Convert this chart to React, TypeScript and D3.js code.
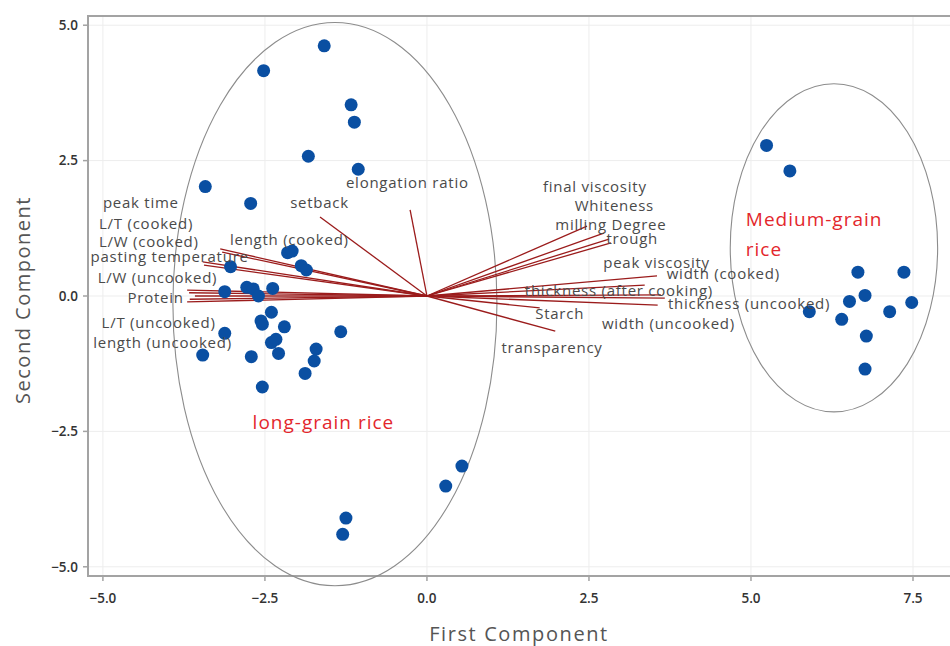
import React from "react";
import * as d3 from "d3";

// ---- data ----
const scoreX = [-1.585, -2.52, -1.17, -1.12, -1.83, -1.06, -3.42, -2.72, -2.15, -2.08, -3.03, -1.94, -1.86, -3.12, -2.78, -2.68, -2.6, -2.38, -2.4, -2.56, -2.54, -2.2, -3.12, -1.33, -2.4, -2.33, -3.46, -2.71, -2.29, -1.71, -1.74, -1.88, -2.54, 0.54, 0.29, -1.25, -1.3,
  5.24, 5.6, 6.65, 7.36, 6.76, 6.52, 7.48, 5.9, 6.4, 7.14, 6.78, 6.76];
const scoreY = [4.62, 4.16, 3.53, 3.21, 2.58, 2.34, 2.02, 1.71, 0.8, 0.83, 0.54, 0.56, 0.48, 0.08, 0.16, 0.13, 0.0, 0.14, -0.3, -0.46, -0.52, -0.57, -0.69, -0.66, -0.86, -0.8, -1.09, -1.12, -1.06, -0.98, -1.2, -1.43, -1.68, -3.14, -3.51, -4.1, -4.4,
  2.78, 2.31, 0.44, 0.44, 0.01, -0.1, -0.12, -0.29, -0.43, -0.29, -0.74, -1.35];

const variables = ["setback", "length (cooked)", "L/W (cooked)", "L/T (cooked)", "pasting temperature", "peak time", "L/W (uncooked)", "Protein", "L/T (uncooked)", "length (uncooked)",
  "elongation ratio", "final viscosity", "Whiteness", "milling Degree", "trough", "peak viscosity", "width (cooked)", "thickness (after cooking)", "thickness (uncooked)", "Starch", "width (uncooked)", "transparency"];
const loadX = [-1.65, -3.19, -3.16, -3.46, -3.44, -3.7, -3.67, -3.58, -3.66, -3.7,
  -0.26, 2.47, 2.73, 2.81, 2.84, 3.55, 3.36, 3.67, 3.61, 1.74, 3.56, 1.98];
const loadY = [1.46, 0.87, 0.81, 0.63, 0.57, 0.11, 0.06, 0.0, -0.06, -0.11,
  1.59, 1.29, 1.16, 1.05, 0.98, 0.37, 0.2, -0.04, 0.02, -0.22, -0.17, -0.65];
// label anchors (data units, left edge / vertical centre)
const labelX = [-2.11, -3.04, -5.06, -5.06, -5.19, -5.0, -5.08, -4.62, -5.02, -5.15,
  -1.25, 1.79, 2.28, 1.98, 2.77, 2.72, 3.7, 1.51, 3.72, 1.67, 2.7, 1.15];
const labelY = [1.72, 1.03, 1.01, 1.34, 0.73, 1.72, 0.33, -0.04, -0.49, -0.87,
  2.09, 2.02, 1.67, 1.32, 1.06, 0.62, 0.42, 0.09, -0.15, -0.32, -0.52, -0.96];

const xTicks = [-5.0, -2.5, 0.0, 2.5, 5.0, 7.5];
const yTicks = [5.0, 2.5, 0.0, -2.5, -5.0];

const groupNames = ["long-grain rice", "Medium-grain", "rice"];
const groupLabelX = [-2.69, 4.92, 4.92];
const groupLabelY = [-2.34, 1.42, 0.87];

const ellipseCX = [-1.42, 6.28];
const ellipseCY = [-0.15, 0.89];
const ellipseRX = [2.5, 1.6];
const ellipseRY = [5.2, 3.03];

const W = 950, H = 646;
const L = 88, R = 948, T = 16, B = 576;

export default function App() {
  const x = d3.scaleLinear().domain([-5.23, 8.04]).range([L, R]);
  const y = d3.scaleLinear().domain([-5.17, 5.17]).range([B, T]);
  const fmt = d3.format(".1f");
  const font = "'Open Sans', 'Noto Sans', sans-serif";
  const kx = x(1) - x(0);
  const ky = y(0) - y(1);

  return (
    <svg width={W} height={H} style={{ position: "absolute", left: 0, top: 0, background: "#fff" }} fontFamily={font}>
      {/* grid */}
      {xTicks.map((t) => (
        <line key={"gx" + t} x1={x(t)} x2={x(t)} y1={T} y2={B} stroke="#ededed" strokeWidth={1} />
      ))}
      {yTicks.map((t) => (
        <line key={"gy" + t} x1={L} x2={W} y1={y(t)} y2={y(t)} stroke="#ededed" strokeWidth={1} />
      ))}
      {/* frame */}
      <line x1={L} x2={W} y1={T} y2={T} stroke="#a3a3a3" strokeWidth={2} />
      <line x1={L} x2={W} y1={B} y2={B} stroke="#a3a3a3" strokeWidth={2} />
      <line x1={L} x2={L} y1={T - 1} y2={B + 1} stroke="#a3a3a3" strokeWidth={2} />
      {/* ticks */}
      {xTicks.map((t) => (
        <g key={"tx" + t}>
          <line x1={x(t)} x2={x(t)} y1={B} y2={B + 5} stroke="#a3a3a3" strokeWidth={1.5} />
          <text x={x(t)} y={B + 27} textAnchor="middle" fontSize={13.5} fontWeight={600} fill="#333">{fmt(t)}</text>
        </g>
      ))}
      {yTicks.map((t) => (
        <g key={"ty" + t}>
          <line x1={L - 5} x2={L} y1={y(t)} y2={y(t)} stroke="#a3a3a3" strokeWidth={1.5} />
          <text x={L - 10} y={y(t)} dy="0.35em" textAnchor="end" fontSize={13.5} fontWeight={600} fill="#333">{fmt(t)}</text>
        </g>
      ))}
      {/* axis titles */}
      <text x={(L + W) / 2} y={641} textAnchor="middle" fontSize={20} letterSpacing={1.6} fill="#555">First Component</text>
      <text transform={`translate(30,${(T + B) / 2 + 4}) rotate(-90)`} textAnchor="middle" fontSize={20} letterSpacing={1.5} fill="#555">Second Component</text>
      {/* ellipses */}
      {ellipseCX.map((cx, i) => (
        <ellipse key={"e" + i} cx={x(cx)} cy={y(ellipseCY[i])} rx={ellipseRX[i] * kx} ry={ellipseRY[i] * ky} fill="none" stroke="#8c8c8c" strokeWidth={1.1} />
      ))}
      {/* loading vectors */}
      {variables.map((v, i) => (
        <line key={"l" + i} x1={x(0)} y1={y(0)} x2={x(loadX[i])} y2={y(loadY[i])} stroke="#9b1c1c" strokeWidth={1.3} />
      ))}
      {/* scores */}
      {scoreX.map((sx, i) => (
        <circle key={"p" + i} cx={x(sx)} cy={y(scoreY[i])} r={6.5} fill="#0a4fa2" />
      ))}
      {/* vector labels */}
      {variables.map((v, i) => (
        <text key={"t" + i} x={x(labelX[i])} y={y(labelY[i])} dy="0.35em" fontSize={15} letterSpacing={0.75} fill="#4a4a4a">{v}</text>
      ))}
      {/* group labels */}
      {groupNames.map((g, i) => (
        <text key={"g" + i} x={x(groupLabelX[i])} y={y(groupLabelY[i])} dy="0.35em" fontSize={19} letterSpacing={1} fill="#e3262c">{g}</text>
      ))}
    </svg>
  );
}
